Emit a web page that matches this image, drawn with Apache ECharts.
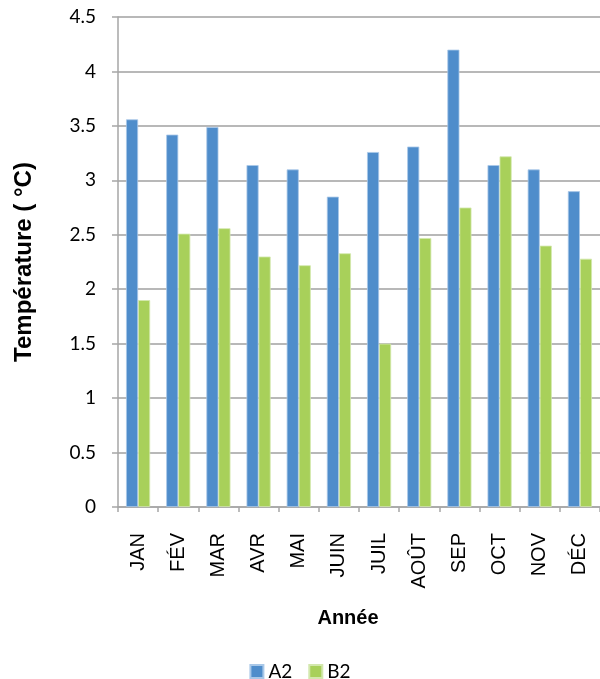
<!DOCTYPE html>
<html><head><meta charset="utf-8">
<script src="https://cdn.jsdelivr.net/npm/echarts@6/dist/echarts.min.js"></script>
<style>html,body{margin:0;padding:0;background:#fff}#c{width:600px;height:679px}</style>
</head><body><div id="c"></div>
<script>
const categories = ['JAN','FÉV','MAR','AVR','MAI','JUIN','JUIL','AOÛT','SEP','OCT','NOV','DÉC'];
const seriesA2 = [3.56, 3.42, 3.49, 3.14, 3.10, 2.85, 3.26, 3.31, 4.20, 3.14, 3.10, 2.90];
const seriesB2 = [1.90, 2.51, 2.56, 2.30, 2.22, 2.33, 1.50, 2.47, 2.75, 3.22, 2.40, 2.28];
const yTicks = { min: 0, max: 4.5, interval: 0.5 };

const SANS = "'Liberation Sans', Arial, sans-serif";
const chart = echarts.init(document.getElementById('c'), null, {renderer: 'canvas'});
chart.setOption({
  animation: false,
  backgroundColor: '#fff',
  grid: { left: 118, right: 0, top: 17, bottom: 172, containLabel: false },
  legend: {
    top: 657, left: 'center', itemWidth: 13, itemHeight: 13, itemGap: 16,
    icon: 'rect',
    textStyle: { fontFamily: 'Lato, sans-serif', fontSize: 19, color: '#000' },
    data: ['A2', 'B2']
  },
  xAxis: {
    type: 'category', data: categories,
    name: 'Année', nameLocation: 'middle', nameGap: 101,
    nameTextStyle: { fontFamily: SANS, fontSize: 20, fontWeight: 'bold', color: '#000', padding: [0, 22, 0, 0] },
    axisLine: { lineStyle: { color: '#a6a6a6', width: 1.5 } },
    axisTick: { show: true, length: 5, alignWithLabel: false, lineStyle: { color: '#a6a6a6', width: 1.5 } },
    axisLabel: { rotate: 90, margin: 26, fontFamily: SANS, fontSize: 20, color: '#000' }
  },
  yAxis: {
    type: 'value', min: yTicks.min, max: yTicks.max, interval: yTicks.interval,
    name: 'Température ( °C)', nameLocation: 'middle', nameGap: 82,
    nameTextStyle: { fontFamily: SANS, fontSize: 24, fontWeight: 'bold', color: '#000' },
    axisLine: { show: true, lineStyle: { color: '#a6a6a6', width: 1.5 } },
    axisTick: { show: true, length: 6, inside: false, lineStyle: { color: '#a6a6a6', width: 1.5 } },
    splitLine: { lineStyle: { color: '#a0a0a0', width: 1.5 } },
    axisLabel: { margin: 22, fontFamily: 'Lato, sans-serif', fontSize: 19, color: '#000', formatter: v => String(v) }
  },
  series: [
    { name: 'A2', type: 'bar', data: seriesA2, barGap: '0%', barCategoryGap: '40%',
      itemStyle: { color: '#4F8DCB', borderColor: '#a9c8e8', borderWidth: 0.8 } },
    { name: 'B2', type: 'bar', data: seriesB2, barGap: '0%', barCategoryGap: '40%',
      itemStyle: { color: '#A8D05A', borderColor: '#d3e8ad', borderWidth: 0.8 } }
  ]
});
</script></body></html>
